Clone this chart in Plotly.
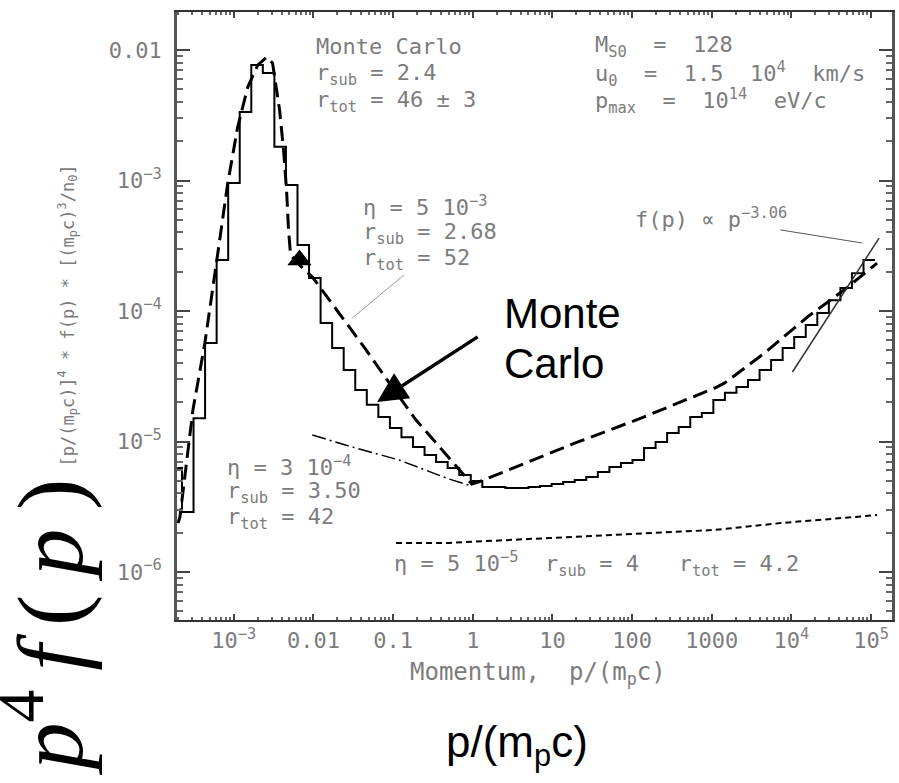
import numpy as np
import plotly.graph_objects as go

# ---------------- data ----------------
# Monte Carlo histogram: log10 of bin edges in p/(m_p c) and bin values of p^4 f(p)
hist_log10_edges = [-3.71, -3.65, -3.505, -3.36, -3.215, -3.07, -2.925, -2.78, -2.635, -2.49,
                    -2.345, -2.2, -2.055, -1.91, -1.765, -1.62, -1.475, -1.33, -1.185, -1.04,
                    -0.895, -0.75, -0.605, -0.46, -0.315, -0.17, -0.025, 0.12, 0.265, 0.41,
                    0.555, 0.70, 0.845, 0.99, 1.135, 1.28, 1.425, 1.57, 1.715, 1.86,
                    2.005, 2.15, 2.295, 2.44, 2.585, 2.73, 2.875, 3.02, 3.165, 3.31,
                    3.455, 3.60, 3.745, 3.89, 4.035, 4.18, 4.325, 4.47, 4.615, 4.76,
                    4.905, 5.05]
hist_values = [6.27e-6, 2.88e-6, 1.51e-5, 5.69e-5, 2.46e-4, 9.57e-4, 3.35e-3, 7.67e-3, 6.67e-3, 1.81e-3,
               9.25e-4, 3.21e-4, 1.79e-4, 8.09e-5, 5.20e-5, 3.53e-5, 2.48e-5, 1.91e-5, 1.54e-5, 1.27e-5,
               1.08e-5, 9.08e-6, 7.89e-6, 6.97e-6, 6.27e-6, 5.53e-6, 4.98e-6, 4.48e-6, 4.48e-6, 4.41e-6,
               4.41e-6, 4.48e-6, 4.56e-6, 4.72e-6, 4.90e-6, 5.07e-6, 5.35e-6, 5.83e-6, 6.38e-6, 6.84e-6,
               7.21e-6, 8.91e-6, 9.91e-6, 1.16e-5, 1.29e-5, 1.54e-5, 1.65e-5, 2.08e-5, 2.36e-5, 2.62e-5,
               2.96e-5, 3.53e-5, 4.22e-5, 5.20e-5, 6.32e-5, 7.82e-5, 9.66e-5, 1.21e-4, 1.50e-4, 1.95e-4,
               2.46e-4]

# eta = 5e-3 model (long dashes)
eta1_p = [2.0e-4, 2.11e-4, 3.07e-4, 4.34e-4, 6.13e-4, 8.41e-4, 1.12e-3, 1.50e-3, 2.0e-3, 2.59e-3,
          3.07e-3, 3.76e-3, 4.22e-3, 4.60e-3, 4.87e-3, 5.16e-3, 6.68e-3, 9.72e-3, 1.37e-2, 4.60e-2,
          9.72e-2, 0.194, 0.434, 0.972, 1.19, 4.60, 19.4, 129.6, 1090, 1454,
          4597, 15850, 45970, 118900]
eta1_f = [2.37e-6, 2.64e-6, 1.74e-5, 5.69e-5, 2.46e-4, 9.57e-4, 2.57e-3, 5.20e-3, 7.67e-3, 8.83e-3,
          7.94e-3, 3.47e-3, 1.71e-3, 8.45e-4, 4.18e-4, 2.69e-4, 2.25e-4, 1.82e-4, 1.37e-4, 5.02e-5,
          2.62e-5, 1.46e-5, 8.32e-6, 4.72e-6, 4.90e-6, 6.84e-6, 9.75e-6, 1.51e-5, 2.57e-5, 2.81e-5,
          4.76e-5, 8.99e-5, 1.45e-4, 2.33e-4]

# eta = 3e-4 model (dash-dot)
eta2_p = [0.0097, 0.0307, 0.119, 0.501, 0.972]
eta2_f = [1.12e-5, 9.08e-6, 7.21e-6, 5.16e-6, 4.56e-6]

# eta = 5e-5 model (short dashes)
eta3_p = [0.109, 0.501, 8.91, 158, 1090, 7290, 119000]
eta3_f = [1.67e-6, 1.67e-6, 1.82e-6, 1.99e-6, 2.10e-6, 2.37e-6, 2.73e-6]

# f(p) ~ p^-3.06 reference line
pow_p = [1.03e4, 1.26e5]
pow_f = [3.41e-5, 3.62e-4]

# label pointer lines
ptr1_p = [0.137, 0.0307]
ptr1_f = [1.89e-4, 8.83e-5]
ptr2_p = [7290, 77200]
ptr2_f = [4.18e-4, 3.32e-4]

# filled triangle on the eta = 5e-3 curve
tri_p = [6.68e-3]
tri_f = [2.46e-4]

# big arrow tip ("Monte Carlo")
arrow_p = 0.0631
arrow_f = 2.01e-5

x_tickvals = [1e-3, 1e-2, 1e-1, 1, 10, 100, 1000, 1e4, 1e5]
x_ticktext = ["10<sup>−3</sup>", "0.01", "0.1", "1", "10", "100", "1000", "10<sup>4</sup>", "10<sup>5</sup>"]
y_tickvals = [1e-2, 1e-3, 1e-4, 1e-5, 1e-6]
y_ticktext = ["0.01", "10<sup>−3</sup>", "10<sup>−4</sup>", "10<sup>−5</sup>", "10<sup>−6</sup>"]

# ---------------- figure ----------------
W, H = 899, 783
ML, MR, MT, MB = 177, 4, 12, 163
PW, PH = W - ML - MR, H - MT - MB

def px(xp):
    return (xp - ML) / PW

def py(yp):
    return (H - MB - yp) / PH

GRAY = "#7c7c7c"
TXT = "DejaVu Sans Mono"
S = "\u00a0"  # non-breaking space
T = "\u2009"  # thin space

fig = go.Figure()

edges = np.power(10.0, hist_log10_edges)
hx = list(edges[:-1]) + [edges[-1]]
hy = list(hist_values) + [hist_values[-1]]
fig.add_trace(go.Scatter(x=hx, y=hy, mode="lines", line=dict(color="black", width=2, shape="hv"),
                         hoverinfo="skip", showlegend=False))
fig.add_trace(go.Scatter(x=eta1_p, y=eta1_f, mode="lines",
                         line=dict(color="black", width=3, dash="15px,7px"), showlegend=False))
fig.add_trace(go.Scatter(x=eta2_p, y=eta2_f, mode="lines",
                         line=dict(color="black", width=1.5, dash="14px,4px,2px,4px"), showlegend=False))
fig.add_trace(go.Scatter(x=eta3_p, y=eta3_f, mode="lines",
                         line=dict(color="black", width=2, dash="6px,4px"), showlegend=False))
fig.add_trace(go.Scatter(x=pow_p, y=pow_f, mode="lines",
                         line=dict(color="#333333", width=1.5), showlegend=False))
fig.add_trace(go.Scatter(x=ptr1_p, y=ptr1_f, mode="lines",
                         line=dict(color="#999999", width=1), showlegend=False))
fig.add_trace(go.Scatter(x=ptr2_p, y=ptr2_f, mode="lines",
                         line=dict(color="#555555", width=1), showlegend=False))
fig.add_trace(go.Scatter(x=tri_p, y=tri_f, mode="markers",
                         marker=dict(symbol="triangle-up", size=21, color="black"), showlegend=False))

minor_vals = [m * 10.0 ** e for e in range(-4, 6) for m in range(2, 10)]
minor_vals_y = [m * 10.0 ** e for e in range(-7, -1) for m in range(2, 10)]

fig.update_xaxes(type="log", range=[-3.7125, 5.2625], tickvals=x_tickvals, ticktext=x_ticktext,
                 ticks="inside", ticklen=6, tickwidth=1.5, tickcolor="#444",
                 showline=True, linecolor="#333", linewidth=2, mirror="ticks",
                 showgrid=False, zeroline=False,
                 tickfont=dict(family=TXT, size=22, color=GRAY),
                 minor=dict(tickvals=minor_vals, ticks="inside", ticklen=3, tickcolor="#666", showgrid=False))
fig.update_yaxes(type="log", range=[-6.3678, -1.7088], tickvals=y_tickvals, ticktext=y_ticktext,
                 ticks="inside", ticklen=13, tickwidth=1.5, tickcolor="#444",
                 showline=True, linecolor="#555", linewidth=2.5, mirror="ticks",
                 showgrid=False, zeroline=False, ticklabelstandoff=8,
                 tickfont=dict(family=TXT, size=22, color=GRAY),
                 minor=dict(tickvals=minor_vals_y, ticks="inside", ticklen=6, tickcolor="#666", showgrid=False))

ann = []

def txt(x, y, s, size=22, color=GRAY, family=TXT, xanchor="left", angle=0):
    ann.append(dict(x=px(x), y=py(y), xref="paper", yref="paper", text=s, showarrow=False,
                    xanchor=xanchor, yanchor="middle", textangle=angle,
                    font=dict(family=family, size=size, color=color)))

EQ = " = "
EQ2 = S + S + "=" + S + S
txt(315, 46, "Monte Carlo")
txt(315, 74, "r<sub>sub</sub>" + EQ + "2.4")
txt(315, 101, "r<sub>tot</sub>" + EQ + "46 ± 3")
txt(595, 47, "M<sub>S0</sub>" + EQ2 + "128")
txt(595, 74, "u<sub>0</sub>" + EQ2 + "1.5" + S + S + "10<sup>4</sup>" + S + S + "km/s")
txt(595, 101, "p<sub>max</sub>" + EQ2 + "10<sup>14</sup>" + S + S + "eV/c")
txt(362, 206, "η" + EQ + "5 10<sup>−3</sup>")
txt(362, 233, "r<sub>sub</sub>" + EQ + "2.68")
txt(362, 259, "r<sub>tot</sub>" + EQ + "52")
txt(635, 218, "f(p) ∝ p<sup>−3.06</sup>")
txt(225, 466, "η" + EQ + "3 10<sup>−4</sup>")
txt(225, 492, "r<sub>sub</sub>" + EQ + "3.50")
txt(225, 518, "r<sub>tot</sub>" + EQ + "42")
txt(393, 564, "η" + EQ + "5 10<sup>−5</sup>" + S * 2 + "r<sub>sub</sub>" + EQ + "4"
    + S * 3 + "r<sub>tot</sub>" + EQ + "4.2")

# axis titles of the original plot
txt(540, 673, "Momentum," + S + S + "p/(m<sub>p</sub>c)", size=24, xanchor="center")
txt(67, 315, "[p/(m<sub>p</sub>c)]<sup>4</sup> * f(p) * [(m<sub>p</sub>c)<sup>3</sup>/n<sub>0</sub>]",
    size=17, xanchor="center", angle=-90)

# slide overlays
txt(503, 313, "Monte", size=42, color="black", family="Liberation Sans")
txt(503, 363, "Carlo", size=42, color="black", family="Liberation Sans")
txt(518, 745, "p/(m<sub>p</sub>c)", size=44, color="black", family="Liberation Sans", xanchor="center")
txt(42, 627, "<i>p</i><sup>4</sup>" + T + "<i>f</i>" + T + "(" + T + "<i>p</i>" + T + ")",
    size=94, color="black", family="Liberation Serif", xanchor="center", angle=-90)

ann.append(dict(x=np.log10(arrow_p), y=np.log10(arrow_f), xref="x", yref="y", ax=102, ay=-66,
                text="", showarrow=True, arrowhead=2, arrowsize=1.7, arrowwidth=3.5, arrowcolor="black"))

fig.update_layout(width=W, height=H, margin=dict(l=ML, r=MR, t=MT, b=MB),
                  paper_bgcolor="white", plot_bgcolor="white", annotations=ann, showlegend=False)

fig.write_html("out.html")
